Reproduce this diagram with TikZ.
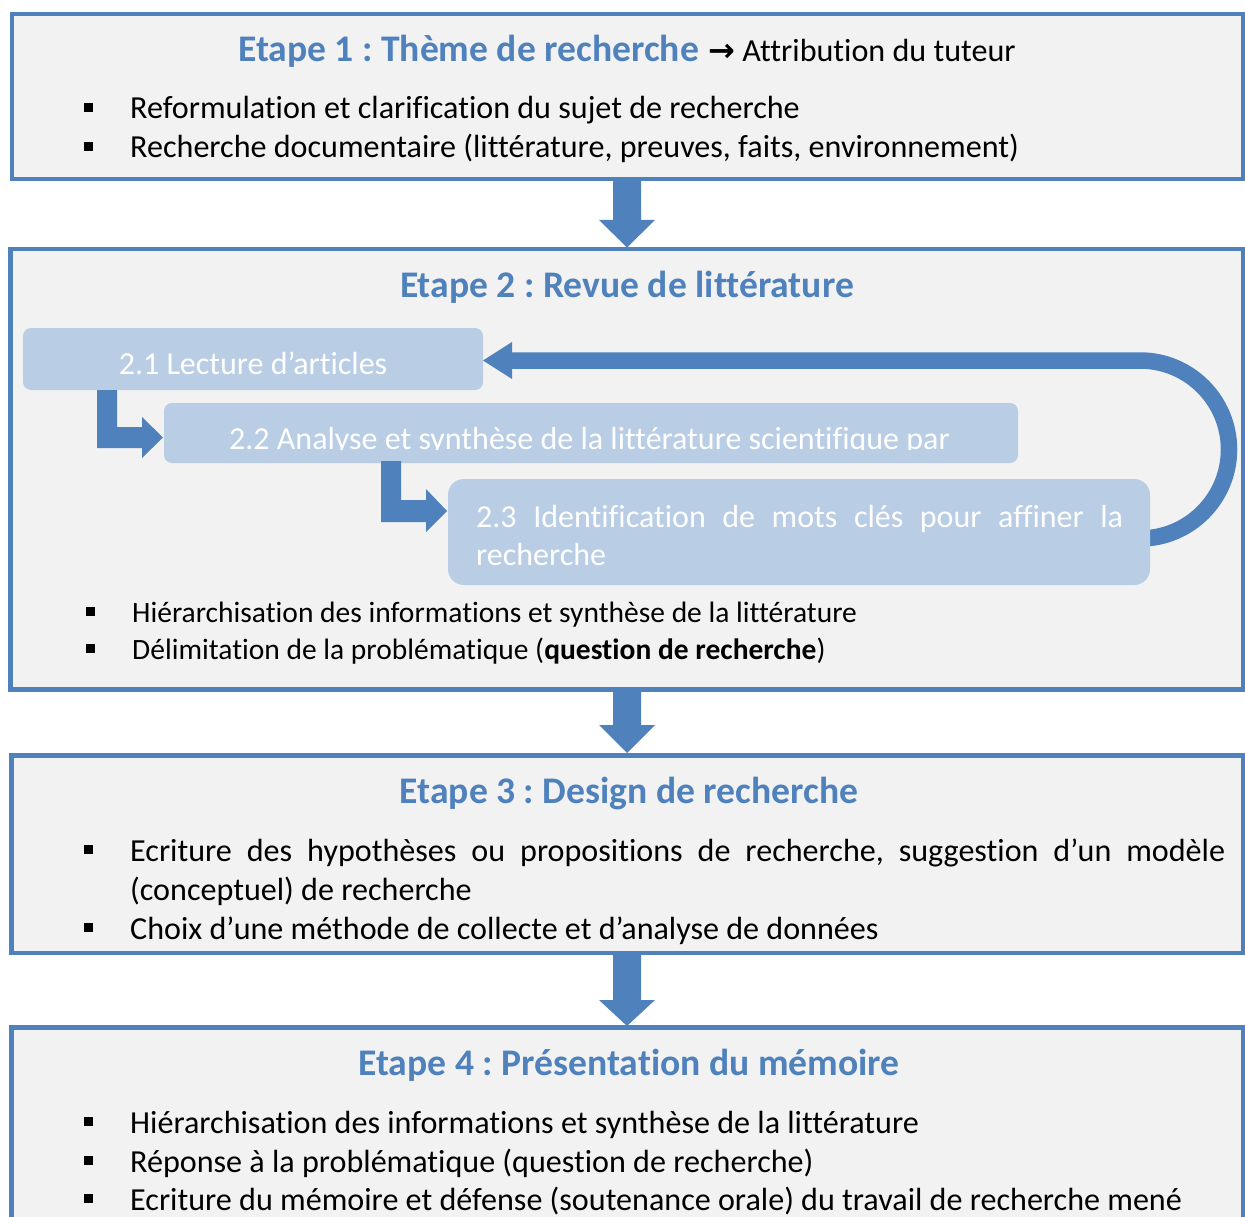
\documentclass[tikz,border=0pt]{standalone}
\usepackage{fontspec}
\setmainfont{Carlito}[Ligatures={NoCommon}]
\newfontfamily\symfont{DejaVu Sans}
\definecolor{bord}{HTML}{4F81BD}
\definecolor{boxfill}{HTML}{F2F2F2}
\definecolor{subfill}{HTML}{B9CDE5}
\newcommand\bsq[2]{\fill[black] (#1,#2-16) rectangle ++(9,9);}
\newcommand\bsqs[2]{\fill[black] (#1,#2-15) rectangle ++(8.5,8.5);}
\frenchspacing
\begin{document}
\frenchspacing
\begin{tikzpicture}[x=1pt,y=-1pt,
  stagebox/.style={draw=bord,fill=boxfill,line width=4.5pt,rectangle,inner sep=0pt,outer sep=0pt},
  subbox/.style={fill=subfill,rounded corners=8pt,rectangle,inner sep=0pt,outer sep=0pt},
  bodytext/.style={anchor=base west,inner sep=0pt,font=\fontsize{32.1}{39}\selectfont},
  bodysmall/.style={anchor=base west,inner sep=0pt,font=\fontsize{29.5}{37}\selectfont},
  stagetitle/.style={anchor=base,inner sep=0pt,text=bord,font=\fontsize{37.6}{44}\selectfont\bfseries},
  subtext/.style={anchor=base west,inner sep=0pt,text=white,font=\fontsize{32}{39}\selectfont},
]
\useasboundingbox (0,0) rectangle (1245,1217);
\fill[white] (0,0) rectangle (1245,1217);

% stage boxes
\node[stagebox,minimum width=1231pt,minimum height=165pt] (s1) at (627.5,96.5) {};
\node[stagebox,minimum width=1232.5pt,minimum height=440.5pt] (s2) at (626.75,469.25) {};
\node[stagebox,minimum width=1231.3pt,minimum height=197.5pt] (s3) at (627.35,854.25) {};
\node[stagebox,minimum width=1231.3pt,minimum height=212.5pt] (s4) at (627.35,1133.75) {};

% feedback arrow (behind the sub boxes)
\coordinate (fbstart) at (1140,538.5);
\draw[bord,line width=16.5pt] (fbstart) arc(90:-90:89) -- (510,360.5);

% sub boxes
\node[subbox,minimum width=460pt,minimum height=62pt] (b21) at (253,359) {};
\node[subbox,minimum width=854pt,minimum height=60pt] (b22) at (591,433) {};
\node[subbox,rounded corners=16pt,minimum width=702pt,minimum height=106pt] (b23) at (799,532) {};

\fill[bord] (512,342) -- (b21.east |- 0,360.5) -- (512,379) -- cycle;

% bent arrows
\fill[bord] (97,390) -- (117,390) -- (117,427) -- (142,427) -- (142,417) -- (163,437.5)
  -- (142,458) -- (142,448) -- (97,448) -- cycle;
\fill[bord] (381,461) -- (401,461) -- (401,500) -- (426,500) -- (426,489) -- (447,511)
  -- (426,532) -- (426,522) -- (381,522) -- cycle;

% texts box 1
\node[stagetitle,anchor=base west] (t1) at (238,62) {Etape 1 : Thème de recherche};
\node[bodytext] (t1a) at (708,62) {{\symfont\bfseries →} Attribution du tuteur};
\bsq{84}{119}
\node[bodytext] (l11) at (130,119) {Reformulation et clarification du sujet de recherche};
\bsq{84}{158}
\node[bodytext] (l12) at (130,158) {Recherche documentaire (littérature, preuves, faits, environnement)};

% texts box 2
\node[stagetitle] (t2) at (627,297) {Etape 2 : Revue de littérature};
\node[subtext,anchor=base] (x21) at (253,374) {2.1 Lecture d’articles};
\begin{scope}
\clip (164,403) rectangle (1018,449.6);
\node[subtext] (x22) at (229,449) {2.2 Analyse et synthèse de la littérature scientifique par};
\end{scope}
\node[subtext] (x23a) at (476,527) {\makebox[647pt][s]{2.3 Identification de mots clés pour affiner la}};
\node[subtext] (x23b) at (476,565) {recherche};
\bsqs{86}{622}
\node[bodysmall] (l21) at (132,622) {Hiérarchisation des informations et synthèse de la littérature};
\bsqs{86}{659}
\node[bodysmall] (l22) at (132,659) {Délimitation de la problématique (\textbf{question de recherche})};

% texts box 3
\node[stagetitle] (t3) at (629,803) {Etape 3 : Design de recherche};
\bsq{84}{861}
\node[bodytext] (l31) at (130,861) {\makebox[1095pt][s]{Ecriture des hypothèses ou propositions de recherche, suggestion d’un modèle}};
\node[bodytext] (l31b) at (130,900) {(conceptuel) de recherche};
\bsq{84}{939}
\node[bodytext] (l32) at (130,939) {Choix d’une méthode de collecte et d’analyse de données};

% texts box 4
\node[stagetitle] (t4) at (629,1075) {Etape 4 : Présentation du mémoire};
\bsq{84}{1133}
\node[bodytext] (l41) at (130,1133) {Hiérarchisation des informations et synthèse de la littérature};
\bsq{84}{1172}
\node[bodytext] (l42) at (130,1172) {Réponse à la problématique (question de recherche)};
\bsq{84}{1210}
\node[bodytext] (l43) at (130,1210) {Ecriture du mémoire et défense (soutenance orale) du travail de recherche mené};

% down arrows
\fill[bord] (613,179) -- (641,179) -- (641,220) -- (655,220) -- (627,247.5) -- (599,220) -- (613,220) -- cycle;
\fill[bord] (613,689.5) -- (641,689.5) -- (641,725) -- (655,725) -- (627,753) -- (599,725) -- (613,725) -- cycle;
\fill[bord] (613,953) -- (641,953) -- (641,1000) -- (655,1000) -- (627,1026) -- (599,1000) -- (613,1000) -- cycle;
\end{tikzpicture}
\end{document}
